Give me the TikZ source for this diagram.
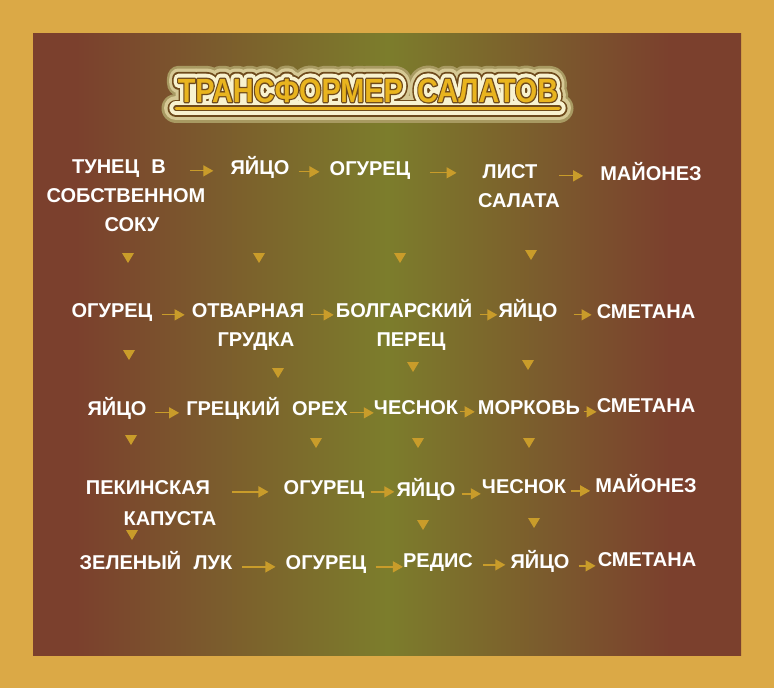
\documentclass[tikz,border=0pt]{standalone}
\usepackage{fontspec}
\usepackage{graphicx}
\newfontfamily\itemfont[WordSpace=2.2]{Liberation Sans}
\newfontface\ttlface[WordSpace=1.8]{Liberation Sans Bold}
\newfontface\ttlhaloface[WordSpace=1.8,FakeBold=78]{Liberation Sans Bold}
\newfontface\ttlglowface[WordSpace=1.8,FakeBold=62]{Liberation Sans Bold}
\newfontface\ttlringface[WordSpace=1.8,FakeBold=42]{Liberation Sans Bold}
\newfontface\ttlcreamface[WordSpace=1.8,FakeBold=31]{Liberation Sans Bold}
\newfontface\ttllineface[WordSpace=1.8,FakeBold=8]{Liberation Sans Bold}
\usetikzlibrary{arrows.meta}

\definecolor{frame}{HTML}{DBA946}
\definecolor{brn}{HTML}{7B402D}
\definecolor{olv}{HTML}{7C7D2C}
\definecolor{gld}{HTML}{C99C2A}
\definecolor{ttlyel}{HTML}{E9B41E}
\definecolor{ttldark}{HTML}{6E4A1C}
\definecolor{ttlcream}{HTML}{F8F2CF}
\definecolor{ttlglow}{HTML}{D6C995}
\definecolor{ttlhalo}{HTML}{A89A62}
\pgfdeclarehorizontalshading{panelshade}{100bp}{color(0bp)=(brn); color(25bp)=(brn); color(28bp)=(brn); color(50bp)=(olv); color(70bp)=(brn); color(75bp)=(brn); color(100bp)=(brn)}

\newcommand\ttltext{\scalebox{0.86}[1]{ТРАНСФОРМЕР САЛАТОВ}}

\begin{document}
\begin{tikzpicture}[
    x=1pt, y=-1pt,
    item/.style={text=white, font=\itemfont\bfseries\fontsize{20}{22}\selectfont, inner sep=0pt, anchor=base, yshift=-7pt},
    ttl/.style={inner sep=0pt, anchor=base, yshift=-12pt, line join=round},
    arr/.style={draw=gld, line width=1.3pt, -{Triangle[length=10pt,width=11pt]}}
]
    \useasboundingbox (0,0) rectangle (774,688);
    \fill[frame] (0,0) rectangle (774,688);
    \shade[shading=panelshade] (33,33) rectangle (741,655);

    % title with glow
    \coordinate (tc) at (368,90);
    \coordinate (barl) at (176,108);
    \coordinate (barr) at (559,108);
    \draw[ttlhalo, line width=29pt, line cap=round] (barl) -- (barr);
    \node[ttl, text=ttlhalo, font=\ttlhaloface\fontsize{33.5}{36}\selectfont] at (tc) {\ttltext};
    \draw[ttlglow, line width=24pt, line cap=round] (barl) -- (barr);
    \node[ttl, text=ttlglow, font=\ttlglowface\fontsize{33.5}{36}\selectfont] at (tc) {\ttltext};
    \draw[ttldark, line width=17pt, line cap=round] (barl) -- (barr);
    \node[ttl, text=ttldark, font=\ttlringface\fontsize{33.5}{36}\selectfont] at (tc) {\ttltext};
    \draw[ttlcream, line width=13.4pt, line cap=round] (barl) -- (barr);
    \node[ttl, text=ttlcream, font=\ttlcreamface\fontsize{33.5}{36}\selectfont] at (tc) {\ttltext};
    \draw[ttldark, line width=5.6pt, line cap=round] (barl) -- (barr);
    \node[ttl, text=ttldark, font=\ttllineface\fontsize{33.5}{36}\selectfont] at (tc) {\ttltext};
    \draw[ttlyel, line width=3pt, line cap=round] (barl) -- (barr);
    \node[ttl, text=ttlyel, font=\ttlface\fontsize{33.5}{36}\selectfont] (title) at (tc) {\ttltext};

    % salads
    \foreach \n/\x/\y/\t in {tuna1/119/166/ТУНЕЦ В, tuna2/126/195/СОБСТВЕННОМ, tuna3/132/224/СОКУ,
        egg1/260/167/ЯЙЦО, cuc1/370/168/ОГУРЕЦ, leaf1/510/171/ЛИСТ, leaf2/519/200/САЛАТА, mayo1/651/173/МАЙОНЕЗ,
        cuc2/112/310/ОГУРЕЦ, chick1/248/310/ОТВАРНАЯ, chick2/256/339/ГРУДКА, pep1/404/310/БОЛГАРСКИЙ,
        pep2/411/339/ПЕРЕЦ, egg2/528/310/ЯЙЦО, cream2/646/311/СМЕТАНА,
        egg3/117/408/ЯЙЦО, nut3/267/408/ГРЕЦКИЙ ОРЕХ, garl3/416/407/ЧЕСНОК, carr3/529/407/МОРКОВЬ, cream3/646/405/СМЕТАНА,
        cab1/148/487/ПЕКИНСКАЯ, cab2/170/518/КАПУСТА, cuc4/324/487/ОГУРЕЦ, egg4/426/489/ЯЙЦО,
        garl4/524/486/ЧЕСНОК, mayo4/646/485/МАЙОНЕЗ,
        onion5/156/562/ЗЕЛЕНЫЙ ЛУК, cuc5/326/562/ОГУРЕЦ, rad5/438/560/РЕДИС, egg5/540/561/ЯЙЦО, cream5/647/559/СМЕТАНА}
        \node[item] (\n) at (\x,\y) {\t};

    \foreach \a/\b/\s/\t in {tuna1/egg1/24pt/17pt, egg1/cuc1/9pt/10pt, cuc1/leaf1/19pt/26pt, leaf1/mayo1/22pt/17pt,
        cuc2/chick1/9pt/7pt, chick1/pep1/7pt/2pt, pep1/egg2/8pt/1pt, egg2/cream2/16pt/5pt,
        egg3/nut3/8pt/7pt, nut3/garl3/2pt/0pt, garl3/carr3/2pt/3pt, carr3/cream3/4pt/0pt,
        cab1/cuc4/22pt/15pt, cuc4/egg4/6pt/2pt, egg4/garl4/6pt/1pt, garl4/mayo4/5pt/5pt,
        onion5/cuc5/10pt/10pt, cuc5/rad5/9pt/0pt, rad5/egg5/10pt/5pt, egg5/cream5/9pt/2pt}
        \draw[arr, shorten <=\s, shorten >=\t] (\a.mid east) -- (\a.mid east -| \b.west);

    \foreach \x/\y in {128/258, 259/258, 400/258, 531/255,
        129/355, 278/373, 413/367, 528/365,
        131/440, 316/443, 418/443, 529/443,
        132/535, 423/525, 534/523}
        \fill[gld] (\x-6,\y-5) -- (\x+6,\y-5) -- (\x,\y+5) -- cycle;
\end{tikzpicture}
\end{document}
